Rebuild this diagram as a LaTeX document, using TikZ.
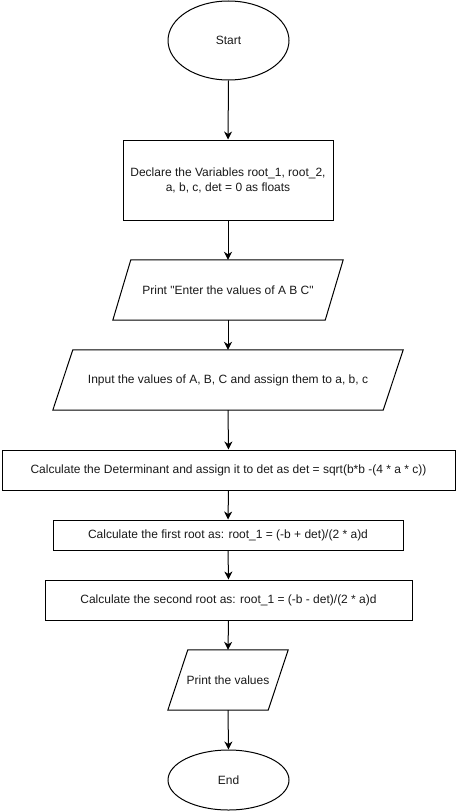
\documentclass[tikz,border=0pt]{standalone}
\usepackage{fontspec}
\setmainfont{Liberation Sans}[Ligatures=TeXOff]
\usetikzlibrary{shapes.geometric,arrows.meta}
\begin{document}
\begin{tikzpicture}[x=1pt,y=-1pt,
  every node/.style={font=\fontsize{12pt}{15pt}\selectfont, text=black!90},
  line/.style={draw=black, line width=1pt},
  term/.style={line, ellipse, inner sep=0pt, minimum width=121pt, minimum height=79pt},
  procbox/.style={line, rectangle, inner sep=0pt, align=center},
  parabox/.style={rectangle, inner sep=0pt, align=center},
  flow/.style={line, -{Stealth[length=8pt,width=8pt,inset=2.5pt]}}
]
\useasboundingbox (0,0) rectangle (456,811);

\node[term] (start) at (228.5,40.5) {Start};
\node[procbox, minimum width=210pt, minimum height=80pt] (decl) at (228,180)
  {Declare the Variables root\_1, root\_2,\\a, b, c, det = 0 as floats};
\node[parabox, minimum width=230pt, minimum height=60pt] (pr1) at (228,290)
  {Print "Enter the values of A B C"};
\draw[line] ([xshift=18pt]pr1.north west) -- (pr1.north east) -- ([xshift=-18pt]pr1.south east) -- (pr1.south west) -- cycle;
\node[parabox, minimum width=350pt, minimum height=60pt] (inp) at (228,380)
  {Input the values of A, B, C and assign them to a, b, c};
\draw[line] ([xshift=20pt]inp.north west) -- (inp.north east) -- ([xshift=-20pt]inp.south east) -- (inp.south west) -- cycle;
\node[procbox, minimum width=453pt, minimum height=40pt] (det) at (228.5,470)
  {Calculate the Determinant and assign it to det as det = sqrt(b*b -(4 * a * c))};
\node[procbox, minimum width=350pt, minimum height=30pt] (r1) at (228,535)
  {Calculate the first root as: root\_1 = (-b + det)/(2 * a)d};
\node[procbox, minimum width=367pt, minimum height=40pt] (r2) at (228.5,600)
  {Calculate the second root as: root\_1 = (-b - det)/(2 * a)d};
\node[parabox, minimum width=120pt, minimum height=60pt] (pv) at (228,680)
  {Print the values};
\draw[line] ([xshift=20pt]pv.north west) -- (pv.north east) -- ([xshift=-20pt]pv.south east) -- (pv.south west) -- cycle;
\node[term, minimum height=60pt] (end) at (228.5,780) {End};

\draw[flow] (start.south) -- (decl.north);
\draw[flow] (decl.south) -- (pr1.north);
\draw[flow] (pr1.south) -- (inp.north);
\draw[flow] (inp.south) -- (det.north);
\draw[flow] (det.south) -- (r1.north);
\draw[flow] (r1.south) -- (r2.north);
\draw[flow] (r2.south) -- (pv.north);
\draw[flow] (pv.south) -- (end.north);
\end{tikzpicture}
\end{document}
